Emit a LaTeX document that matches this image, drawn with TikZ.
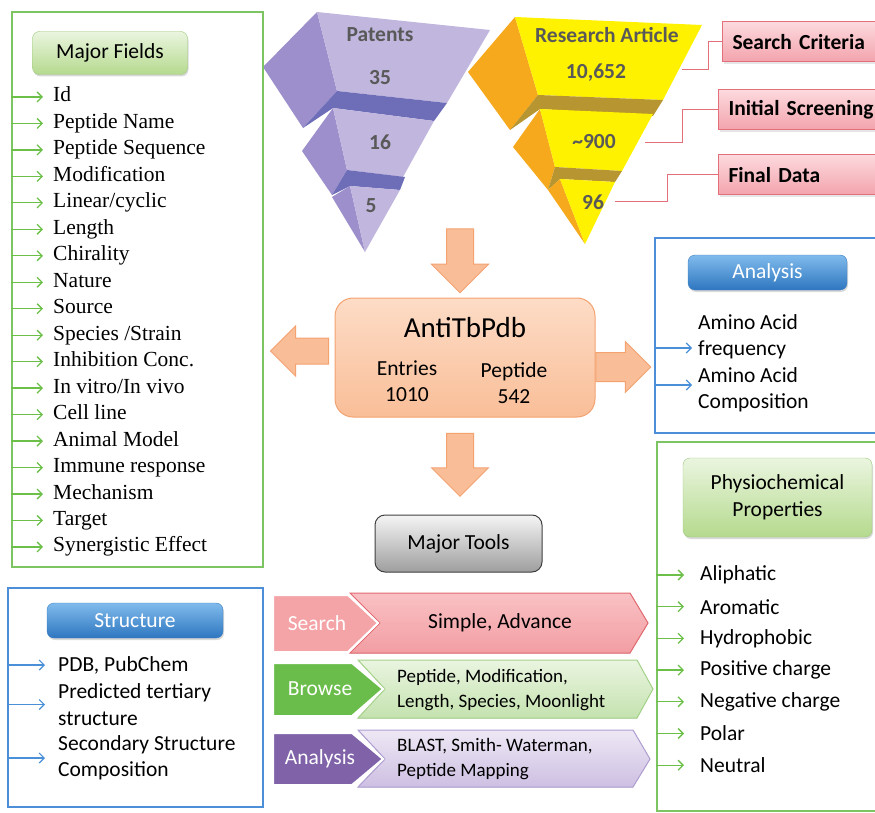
\documentclass[tikz,border=0pt]{standalone}
\usepackage{fontspec}
\setmainfont{Carlito}
\newfontfamily\timesfont{Liberation Serif}
\usetikzlibrary{shapes.arrows,shadows,positioning,arrows.meta}

\definecolor{framegreen}{HTML}{7DC462}
\definecolor{arrowgreen}{HTML}{6CC04A}
\definecolor{frameblue}{HTML}{4C8FD8}
\definecolor{arrowblue}{HTML}{4A90D9}
\definecolor{titlegreentop}{HTML}{EAF5DF}
\definecolor{titlegreenbot}{HTML}{B5DA8E}
\definecolor{titlegreenline}{HTML}{9CC97A}
\definecolor{titlebluetop}{HTML}{80BBEC}
\definecolor{titlebluebot}{HTML}{2E76C0}
\definecolor{titleblueline}{HTML}{3C7FC4}
\definecolor{peach}{HTML}{F9BE98}
\definecolor{peachtop}{HTML}{FDDCC6}
\definecolor{peachline}{HTML}{F3A270}
\definecolor{lavfront}{HTML}{C1B6DE}
\definecolor{lavside}{HTML}{9C8FCB}
\definecolor{lavband}{HTML}{6E6DB8}
\definecolor{yelfront}{HTML}{FFF200}
\definecolor{yelside}{HTML}{F6A91C}
\definecolor{yelband}{HTML}{B79530}
\definecolor{funneltext}{HTML}{595959}
\definecolor{critfilltop}{HTML}{FCD9DE}
\definecolor{critfillbot}{HTML}{F3A3AC}
\definecolor{critline}{HTML}{E2707B}
\definecolor{searchtop}{HTML}{F9C1C4}
\definecolor{searchbot}{HTML}{F29EA3}
\definecolor{searchline}{HTML}{E36A70}
\definecolor{searchtab}{HTML}{F4A3A6}
\definecolor{browsetab}{HTML}{6ABD4B}
\definecolor{browsetop}{HTML}{EAF5E0}
\definecolor{browsebot}{HTML}{C4E2AF}
\definecolor{browseline}{HTML}{A6D38A}
\definecolor{analysistab}{HTML}{7F62A8}
\definecolor{analysistop}{HTML}{EEE8F5}
\definecolor{analysisbot}{HTML}{CDBFE2}
\definecolor{analysisline}{HTML}{B09FD3}

\newcommand\sansbody{\fontsize{21.5}{26.5}\selectfont}
\newcommand\fieldfont{\timesfont\fontsize{21.5}{26.5}\selectfont}
\newcommand\toolfont{\fontsize{19}{25}\selectfont}
\newcommand\dbfont{\fontsize{29}{32}\selectfont}

\tikzset{
    green-frame/.style = {draw=framegreen, line width=2pt, rectangle, inner sep=0pt},
    blue-frame/.style = {draw=frameblue, line width=2pt, rectangle, inner sep=0pt},
    green-title/.style = {draw=titlegreenline, rounded corners=7pt, top color=titlegreentop, bottom color=titlegreenbot, drop shadow={opacity=0.3, shadow xshift=1pt, shadow yshift=-2pt}, font=\sansbody, align=center},
    blue-title/.style = {draw=titleblueline, rounded corners=7pt, top color=titlebluetop, bottom color=titlebluebot, drop shadow={opacity=0.3, shadow xshift=1pt, shadow yshift=-2pt}, font=\sansbody, text=white},
    field-item/.style = {anchor=west, inner ysep=0pt, inner xsep=10pt, font=\fieldfont, text height=15pt, text depth=5pt},
    sans-item/.style = {anchor=west, inner ysep=0pt, align=left, font=\sansbody},
    green-arrow/.style = {-{Straight Barb[length=5pt,width=10pt]}, draw=arrowgreen, line width=1.3pt},
    blue-arrow/.style = {-{Straight Barb[length=5pt,width=10pt]}, draw=arrowblue, line width=1.1pt},
    peach-arrow/.style = {single arrow, draw=peachline, fill=peach, line width=1pt},
    db-box/.style = {draw=peachline, line width=1pt, rounded corners=18pt, top color=peachtop, bottom color=peach},
    tools-button/.style = {draw=black!75, line width=1pt, rounded corners=10pt, top color=black!4, bottom color=black!38, font=\sansbody},
    funnel-label/.style = {font=\bfseries\sansbody, text=funneltext},
    criteria-box/.style = {anchor=west, draw=critline, line width=1pt, top color=critfilltop, bottom color=critfillbot, text width=165pt, align=left, inner xsep=10pt, minimum height=40pt, font=\bfseries\sansbody, drop shadow={opacity=0.2, shadow xshift=1pt, shadow yshift=-2pt}},
    crit-line/.style = {draw=critline, line width=1pt},
    tool-label/.style = {font=\sansbody, text=white},
    tool-text/.style = {font=\toolfont, align=left, anchor=west, inner sep=0pt},
}

\begin{document}
\begin{tikzpicture}[x=1pt,y=-1pt]
\useasboundingbox (0,0) rectangle (875,813);
\clip (0,0) rectangle (875,813);

% patents funnel
\fill[lavside] (317,12) -- (263,67) -- (303,128) -- (337,91) -- cycle;
\fill[lavfront] (317,12) -- (490,30) -- (447,103) -- (337,91) -- cycle;
\fill[lavband] (303,128) -- (337,91) -- (447,103) -- (434,121) -- (333,108) -- cycle;
\fill[lavside] (333,108) -- (302,151) -- (332,195) -- (347,170) -- cycle;
\fill[lavfront] (333,108) -- (434,121) -- (403,177) -- (347,170) -- cycle;
\fill[lavband] (332,195) -- (347,170) -- (405,177) -- (400,190) -- (350,186) -- cycle;
\fill[lavside] (332,197) -- (350,186) -- (365,252) -- cycle;
\fill[lavfront] (350,186) -- (400,190) -- (365,252) -- cycle;
\node[funnel-label] (patents) at (380,35) {Patents};
\node[funnel-label] (patents-1) at (380,78) {35};
\node[funnel-label] (patents-2) at (380,142) {16};
\node[funnel-label] (patents-3) at (371,206) {5};

% research article funnel
\fill[yelside] (515,17) -- (468,72) -- (510,130) -- (538,95) -- cycle;
\fill[yelfront] (515,17) -- (702,25) -- (663,100) -- (538,95) -- cycle;
\fill[yelband] (510,130) -- (538,95) -- (663,100) -- (653,116) -- (540,109) -- cycle;
\fill[yelside] (540,109) -- (513,147) -- (548,190) -- (555,167) -- cycle;
\fill[yelfront] (540,109) -- (653,114) -- (622,171) -- (555,167) -- cycle;
\fill[yelband] (548,190) -- (555,167) -- (622,171) -- (615,182) -- (560,179) -- cycle;
\fill[yelside] (548,190) -- (560,179) -- (585,244) -- cycle;
\fill[yelfront] (560,179) -- (615,182) -- (585,244) -- cycle;
\node[funnel-label] (articles) at (607,35) {Research Article};
\node[funnel-label] (articles-1) at (596,73) {10,652};
\node[funnel-label] (articles-2) at (594,142) {\textasciitilde 900};
\node[funnel-label] (articles-3) at (593,202) {96};

% criteria callouts
\node[criteria-box] (crit-search) at (722,42) {Search Criteria};
\node[criteria-box] (crit-initial) at (718,110) {Initial Screening};
\node[criteria-box] (crit-final) at (718,175) {Final Data};
\coordinate (level-1) at (682,70);
\coordinate (level-2) at (645,143);
\coordinate (level-3) at (615,202);
\draw[crit-line] (level-1) -- ++(26,0) |- (crit-search.west);
\draw[crit-line] (level-2) -- ++(37,0) |- (crit-initial.west);
\draw[crit-line] (level-3) -- ++(52,0) |- (crit-final.west);

% major fields
\node[green-frame, minimum width=251pt, minimum height=555pt] (fields) at (137.5,289.5) {};
\node[green-title, minimum width=155pt, minimum height=43pt] (fields-title) at (110,53) {Major Fields};
\foreach \fieldname [count=\i] in {Id, Peptide Name, Peptide Sequence, Modification, Linear/cyclic, Length, Chirality, Nature, Source, Species /Strain, Inhibition Conc., In vitro/In vivo, Cell line, Animal Model, Immune response, Mechanism, Target, Synergistic Effect}
{
    \node[field-item] (field-\i) at (43,70.5+26.47*\i) {\fieldname};
    \draw[green-arrow] (fields.west |- field-\i.west) -- (field-\i.west);
}

% database
\node[db-box, minimum width=260pt, minimum height=119pt] (db) at (465,357.5) {};
\node[font=\dbfont] (db-name) at (465,328) {AntiTbPdb};
\node[align=center, font=\sansbody] (db-entries) at (407,381) {Entries\\1010};
\node[align=center, font=\sansbody] (db-peptides) at (514,383) {Peptide\\542};
\node[peach-arrow, shape border rotate=270, inner sep=13pt, single arrow head extend=15pt, minimum height=64pt] (to-db) at (460,254) {};
\node[peach-arrow, shape border rotate=180, inner sep=12.5pt, single arrow head extend=12pt, minimum height=58pt] (to-fields) at (306,351) {};
\node[peach-arrow, inner sep=14pt, single arrow head extend=11pt, minimum height=55pt] (to-analysis) at (616,367) {};
\node[peach-arrow, shape border rotate=270, inner sep=13pt, single arrow head extend=15pt, minimum height=63pt] (to-tools) at (460,458) {};

% analysis
\node[blue-frame, minimum width=240pt, minimum height=195pt] (analysis) at (775,335.5) {};
\node[blue-title, minimum width=159pt, minimum height=35pt] (analysis-title) at (767.5,272.5) {Analysis};
\node[sans-item, inner xsep=6pt] (aa-freq) at (692,337) {Amino Acid\\frequency};
\node[sans-item, inner xsep=6pt] (aa-comp) at (692,390) {Amino Acid\\Composition};
\coordinate (freq-in) at ([yshift=-11pt]aa-freq.west);
\coordinate (comp-in) at ([yshift=5pt]aa-comp.west);
\draw[blue-arrow] (freq-in -| analysis.west) -- (freq-in);
\draw[blue-arrow] (comp-in -| analysis.west) -- (comp-in);

% physiochemical properties
\node[green-frame, minimum width=240pt, minimum height=369pt] (physio) at (777,626.5) {};
\node[green-title, minimum width=189pt, minimum height=79pt] (physio-title) at (777.5,497.5) {Physiochemical\\Properties};
\foreach \propname [count=\i] in {Aliphatic, Aromatic, Hydrophobic, Positive charge, Negative charge, Polar, Neutral}
{
    \node[sans-item, inner xsep=16pt] (prop-\i) at (684,543.3+31.7*\i) {\propname};
    \draw[green-arrow] (physio.west |- prop-\i.west) -- (prop-\i.west);
}

% structure
\node[blue-frame, minimum width=255pt, minimum height=219pt] (structure) at (135.5,697.5) {};
\node[blue-title, minimum width=176pt, minimum height=35pt] (structure-title) at (135,620.5) {Structure};
\node[sans-item, inner xsep=13pt] (pdb) at (45,665) {PDB, PubChem};
\node[sans-item, inner xsep=13pt] (tertiary) at (45,704.5) {Predicted tertiary\\structure};
\node[sans-item, inner xsep=13pt] (secondary) at (45,758) {Secondary Structure\\Composition};
\draw[blue-arrow] (structure.west |- pdb.west) -- (pdb.west);
\draw[blue-arrow] (structure.west |- tertiary.west) -- (tertiary.west);
\draw[blue-arrow] (structure.west |- secondary.west) -- (secondary.west);

% major tools
\node[tools-button, minimum width=167pt, minimum height=57pt] (tools) at (458.5,543.5) {Major Tools};
\filldraw[draw=searchline, line width=1pt, top color=searchtop, bottom color=searchbot] (350,593) -- (630,593) -- (648,623) -- (630,653) -- (350,653) -- (380,623) -- cycle;
\filldraw[draw=white, line width=2pt, fill=searchtab] (273,595) -- (348,595) -- (378,623) -- (348,652) -- (273,652) -- cycle;
\node[tool-label] (search-label) at (317,623) {Search};
\node[font=\sansbody] (search-text) at (500,623) {Simple, Advance};
\filldraw[draw=browseline, line width=1pt, top color=browsetop, bottom color=browsebot] (358,660) -- (637,660) -- (653,689) -- (637,718) -- (358,718) -- (385,689) -- cycle;
\filldraw[draw=white, line width=2pt, fill=browsetab] (273,663) -- (352,663) -- (383,689) -- (352,716) -- (273,716) -- cycle;
\node[tool-label] (browse-label) at (320,689) {Browse};
\node[tool-text] (browse-text) at (397,690) {Peptide, Modification,\\Length, Species, Moonlight};
\filldraw[draw=analysisline, line width=1pt, top color=analysistop, bottom color=analysisbot] (358,730) -- (633,730) -- (650,759) -- (633,787) -- (358,787) -- (385,759) -- cycle;
\filldraw[draw=white, line width=2pt, fill=analysistab] (273,733) -- (352,733) -- (383,759) -- (352,785) -- (273,785) -- cycle;
\node[tool-label] (analysis-label) at (320,759) {Analysis};
\node[tool-text] (analysis-text) at (397,759) {BLAST, Smith- Waterman,\\Peptide Mapping};
\end{tikzpicture}
\end{document}
